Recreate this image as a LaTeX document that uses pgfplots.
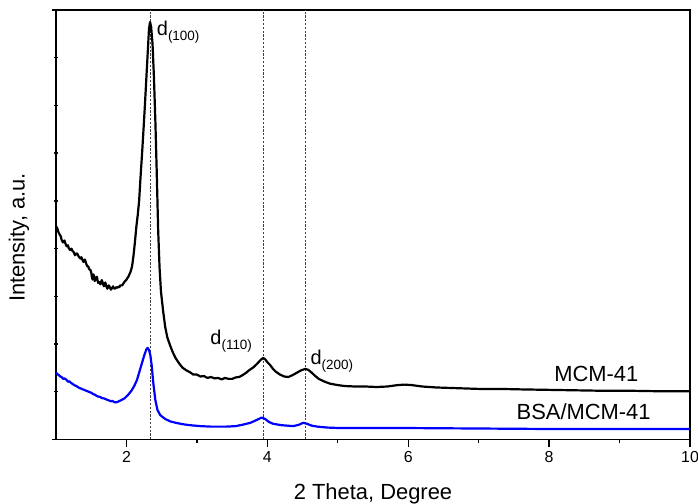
\documentclass[border=0pt]{standalone}
\usepackage{fontspec}
\setmainfont{Liberation Sans}
\usepackage{pgfplots}
\pgfplotsset{compat=1.18}

\newcommand{\dlab}[1]{{\fontsize{20}{20}\selectfont d}{\fontsize{13.5}{14}\selectfont\raisebox{-5bp}{(#1)}}}

\begin{document}
\begin{tikzpicture}
\begin{axis}[
    name=ax,
    scale only axis,
    width=634bp, height=429.5bp,
    xmin=1, xmax=10, ymin=0, ymax=9,
    xtick={2,4,6,8,10},
    minor xtick={3,5,7,9},
    ytick={0,9},
    minor ytick={1,2,3,4,5,6,7,8},
    yticklabels={},
    xtick pos=bottom, ytick pos=left,
    xtick align=outside, ytick align=center,
    major tick length=8bp, minor tick length=4bp,
    tick style={black, line width=1.4bp},
    axis line style={line width=1.5bp},
    /pgf/number format/assume math mode=true,
    ticklabel style={font=\fontsize{16}{16}\selectfont},
    xticklabel style={yshift=-0.5bp},
    xlabel={2 Theta, Degree},
    ylabel={Intensity, a.u.},
    label style={font=\fontsize{22}{24}\selectfont},
    xlabel style={at={(axis description cs:0.5,-0.127)}, anchor=center},
    ylabel style={at={(axis description cs:-0.0584,0.47)}, anchor=center},
    clip=false,
]
% reference lines
\addplot[black!75, line width=0.7bp, dash pattern=on 2.2bp off 1.6bp] coordinates {(2.335,0) (2.335,9)};
\addplot[black!75, line width=0.7bp, dash pattern=on 2.2bp off 1.6bp] coordinates {(3.94,0) (3.94,9)};
\addplot[black!75, line width=0.7bp, dash pattern=on 2.2bp off 1.6bp] coordinates {(4.54,0) (4.54,9)};

% MCM-41
\addplot[black, line width=2.2bp, line join=round] coordinates {
(1.00,4.47) (1.02,4.42) (1.03,4.36) (1.05,4.30) (1.07,4.25) (1.08,4.18) (1.10,4.13) (1.12,4.17) (1.13,4.12)
(1.15,4.05) (1.17,4.07) (1.18,4.01) (1.20,3.97) (1.22,4.00) (1.23,3.96) (1.25,3.93) (1.27,3.86) (1.28,3.89)
(1.30,3.90) (1.32,3.84) (1.33,3.82) (1.35,3.79) (1.36,3.82) (1.38,3.75) (1.39,3.72) (1.41,3.77) (1.43,3.68) (1.44,3.64)
(1.46,3.62) (1.47,3.57) (1.49,3.55) (1.50,3.50) (1.51,3.40) (1.52,3.35) (1.53,3.46) (1.54,3.43) (1.55,3.32) (1.56,3.38) (1.58,3.41)
(1.59,3.33) (1.60,3.28) (1.62,3.30) (1.63,3.25) (1.65,3.34) (1.66,3.30) (1.68,3.21) (1.69,3.26) (1.70,3.29) (1.72,3.19) (1.73,3.16)
(1.75,3.23) (1.76,3.20) (1.78,3.14) (1.79,3.16) (1.81,3.21) (1.82,3.17) (1.84,3.16) (1.85,3.19) (1.87,3.18) (1.88,3.20) (1.90,3.19) (1.91,3.23)
(1.94,3.23) (1.97,3.30) (2.00,3.35) (2.03,3.42) (2.06,3.52) (2.08,3.63)
(2.10,3.85) (2.12,4.13) (2.14,4.45) (2.16,4.70) (2.18,5.00) (2.20,5.50)
(2.22,5.95) (2.24,6.44) (2.26,6.95) (2.28,7.50) (2.30,8.05) (2.32,8.60)
(2.335,8.75) (2.35,8.65) (2.37,8.30) (2.39,7.60) (2.41,6.70) (2.43,5.60)
(2.45,4.40) (2.47,3.60) (2.49,3.10) (2.52,2.70) (2.55,2.36) (2.58,2.14)
(2.62,1.97) (2.66,1.82) (2.70,1.70) (2.75,1.59) (2.80,1.50) (2.85,1.45)
(2.90,1.41) (2.95,1.36) (3.00,1.36) (3.05,1.32) (3.10,1.33) (3.15,1.29)
(3.20,1.31) (3.25,1.28) (3.30,1.29) (3.35,1.26) (3.40,1.29) (3.45,1.27)
(3.50,1.27) (3.55,1.30) (3.60,1.31) (3.65,1.35) (3.70,1.40) (3.75,1.46)
(3.80,1.51) (3.85,1.58) (3.90,1.66) (3.94,1.71) (3.97,1.68) (4.00,1.62)
(4.04,1.56) (4.08,1.48) (4.12,1.42) (4.18,1.36) (4.24,1.32) (4.30,1.31)
(4.36,1.35) (4.42,1.40) (4.48,1.45) (4.54,1.48) (4.58,1.46) (4.63,1.40)
(4.68,1.33) (4.73,1.27) (4.80,1.22) (4.89,1.17) (5.00,1.14) (5.10,1.12)
(5.25,1.11) (5.40,1.11) (5.55,1.10) (5.70,1.11) (5.85,1.14) (5.95,1.15)
(6.05,1.14) (6.20,1.11) (6.40,1.09) (6.60,1.08) (6.80,1.07) (7.00,1.06)
(7.30,1.06) (7.60,1.05) (8.00,1.04) (8.40,1.03) (8.80,1.02) (9.20,1.02)
(9.60,1.01) (10.00,1.01)
};

% BSA/MCM-41
\addplot[blue, line width=2.2bp, line join=round] coordinates {
(1.00,1.40) (1.02,1.37) (1.04,1.35) (1.06,1.32) (1.08,1.31) (1.10,1.27) (1.12,1.28) (1.15,1.25) (1.17,1.21) (1.19,1.22)
(1.21,1.19) (1.23,1.17) (1.25,1.15) (1.27,1.13) (1.29,1.12) (1.31,1.10) (1.33,1.08) (1.35,1.07) (1.38,1.05) (1.40,1.04) (1.43,1.02) (1.45,1.01)
(1.48,0.99) (1.50,0.98) (1.53,0.95) (1.55,0.94) (1.58,0.91) (1.60,0.90) (1.63,0.89) (1.65,0.87) (1.68,0.86) (1.70,0.85) (1.73,0.83) (1.75,0.82)
(1.78,0.80) (1.80,0.81) (1.83,0.78) (1.86,0.78) (1.89,0.80) (1.92,0.82) (1.97,0.86) (2.02,0.93) (2.07,1.02)
(2.11,1.12) (2.15,1.25) (2.19,1.45) (2.22,1.60) (2.25,1.75) (2.28,1.88)
(2.30,1.92) (2.32,1.88) (2.34,1.76) (2.36,1.53) (2.38,1.20) (2.41,0.83)
(2.44,0.62) (2.48,0.51) (2.55,0.43) (2.62,0.38) (2.70,0.35) (2.80,0.32)
(2.90,0.30) (3.05,0.28) (3.20,0.27) (3.42,0.27) (3.55,0.28) (3.65,0.31)
(3.76,0.35) (3.85,0.41) (3.92,0.46) (3.97,0.43) (4.02,0.37) (4.08,0.33)
(4.20,0.30) (4.37,0.28) (4.45,0.31) (4.51,0.35) (4.56,0.33) (4.63,0.29)
(4.71,0.27) (4.85,0.25) (5.03,0.24) (5.50,0.24) (6.00,0.24) (7.00,0.23)
(8.00,0.22) (9.00,0.22) (10.00,0.22)
};

\node[anchor=base west, inner sep=0pt] at (axis cs:2.43,8.46) {\dlab{100}};
\node[anchor=base west, inner sep=0pt] at (axis cs:3.19,1.985) {\dlab{110}};
\node[anchor=base west, inner sep=0pt] at (axis cs:4.61,1.565) {\dlab{200}};
\node[anchor=base, inner sep=0pt, font=\fontsize{22}{24}\selectfont] at (axis cs:8.67,1.21) {MCM-41};
\node[anchor=base, inner sep=0pt, font=\fontsize{22}{24}\selectfont] at (axis cs:8.49,0.41) {BSA/MCM-41};
\end{axis}
\pgfresetboundingbox
\path[use as bounding box] ([xshift=-56bp,yshift=-64.5bp]ax.south west) rectangle ([xshift=8bp,yshift=10bp]ax.north east);
\end{tikzpicture}
\end{document}
